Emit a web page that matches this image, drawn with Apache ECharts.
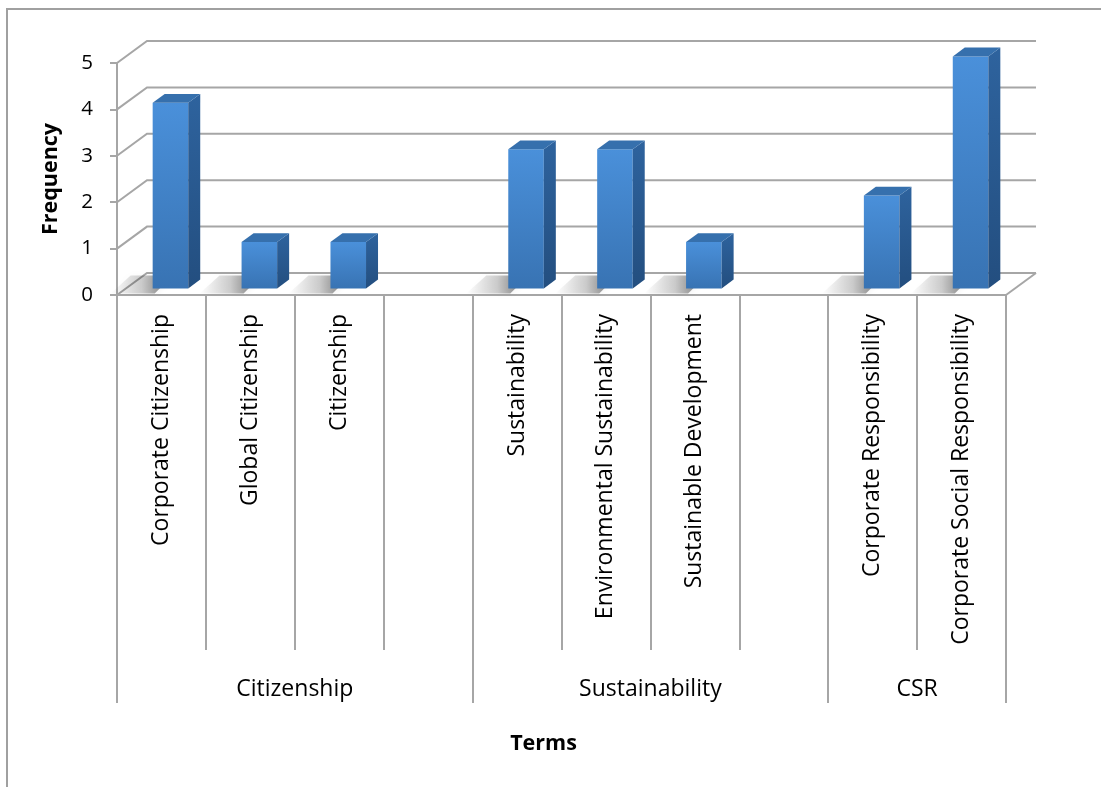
<!DOCTYPE html>
<html>
<head>
<meta charset="utf-8">
<script src="https://cdn.jsdelivr.net/npm/echarts@6/dist/echarts.min.js"></script>
<style>
  html, body { margin: 0; padding: 0; background: #fff; }
  #chart { width: 1101px; height: 787px; }
</style>
</head>
<body>
<div id="chart"></div>
<script>
// Term categories (empty slots separate the three groups)
const categories = [
  'Corporate Citizenship', 'Global Citizenship', 'Citizenship', '',
  'Sustainability', 'Environmental Sustainability', 'Sustainable Development', '',
  'Corporate Responsibility', 'Corporate Social Responsibility'
];
const frequencies = [4, 1, 1, null, 3, 3, 1, null, 2, 5];

// Group labels sit under the middle of their slots; edges mark group borders
const groupNames = ['Citizenship', 'Sustainability', 'CSR'];
const groupCenters = [1.5, 5.5, 8.5];
const groupEdges = [-0.5, 3.5, 7.5, 9.5];

const yTicks = [0, 1, 2, 3, 4, 5];

// Perspective offset from the front plane to the back wall
const DEPTH_X = 30, DEPTH_Y = -22;
const LINE = '#a6a6a6';
const FONT = '"Open Sans", sans-serif';

// Side wall, back wall gridlines and floor edge
function renderWall(params, api) {
  const v = api.value(1);
  const cs = params.coordSys;
  const y = api.coord([0, v])[1];
  const x0 = cs.x, x1 = cs.x + cs.width;
  const children = [{
    type: 'polyline',
    shape: { points: [[x0, y], [x0 + DEPTH_X, y + DEPTH_Y], [x1 + DEPTH_X, y + DEPTH_Y]] },
    style: { stroke: LINE, lineWidth: 2, fill: null }
  }];
  if (v === 0) {
    children.push({
      type: 'line',
      shape: { x1: x1, y1: y, x2: x1 + DEPTH_X, y2: y + DEPTH_Y },
      style: { stroke: LINE, lineWidth: 2 }
    });
  }
  return { type: 'group', children: children };
}

// Shaded 3D column: floor shadow, front face, side face, top face
function renderBar(params, api) {
  const i = api.value(0), v = api.value(1);
  if (v == null || isNaN(v)) return;
  const base = api.coord([i, 0]);
  const top = api.coord([i, v]);
  const slot = api.size([1, 0])[0];
  const w = slot * 0.4;
  const fx = base[0] - w / 2 + 0.3 * DEPTH_X;
  const fy0 = base[1] + 0.3 * DEPTH_Y;
  const fy1 = top[1] + 0.3 * DEPTH_Y;
  const dx = 0.4 * DEPTH_X, dy = 0.4 * DEPTH_Y;
  const sh = 42;
  return {
    type: 'group',
    children: [
      {
        type: 'polygon',
        shape: {
          points: [
            [fx - sh, fy0 + 5], [fx + 2, fy0 + 5],
            [fx + dx + 8, fy0 + dy - 4], [fx + dx + 8 - sh, fy0 + dy - 4]
          ]
        },
        style: {
          fill: new echarts.graphic.LinearGradient(0, 0, 1, 0, [
            { offset: 0, color: 'rgba(0,0,0,0)' },
            { offset: 0.5, color: 'rgba(0,0,0,0.18)' },
            { offset: 1, color: 'rgba(0,0,0,0.55)' }
          ]),
          shadowBlur: 6, shadowColor: 'rgba(0,0,0,0.18)'
        }
      },
      {
        type: 'rect',
        shape: { x: fx, y: fy1, width: w, height: fy0 - fy1 },
        style: {
          fill: new echarts.graphic.LinearGradient(0, 0, 0, 1, [
            { offset: 0, color: '#4a90da' },
            { offset: 1, color: '#3873b3' }
          ])
        }
      },
      {
        type: 'polygon',
        shape: { points: [[fx + w, fy1], [fx + w + dx, fy1 + dy], [fx + w + dx, fy0 + dy], [fx + w, fy0]] },
        style: {
          fill: new echarts.graphic.LinearGradient(0, 0, 0, 1, [
            { offset: 0, color: '#2e639e' },
            { offset: 1, color: '#234e7f' }
          ])
        }
      },
      {
        type: 'polygon',
        shape: { points: [[fx, fy1], [fx + dx, fy1 + dy], [fx + w + dx, fy1 + dy], [fx + w, fy1]] },
        style: { fill: '#3670ad' }
      }
    ]
  };
}

const chart = echarts.init(document.getElementById('chart'), null, { renderer: 'canvas' });

chart.setOption({
  backgroundColor: '#ffffff',
  animation: false,
  textStyle: { fontFamily: FONT },
  graphic: [{
    type: 'rect',
    shape: { x: 7, y: 9, width: 1200, height: 900 },
    style: { fill: null, stroke: '#a0a0a0', lineWidth: 2 },
    silent: true
  }],
  grid: { left: 117, top: 63, width: 889, height: 232 },
  xAxis: [
    {
      type: 'category',
      data: categories,
      name: 'Terms',
      nameLocation: 'middle',
      nameGap: 438,
      nameTextStyle: { fontFamily: FONT, fontSize: 21.5, fontWeight: 'bold', color: '#000', padding: [0, 36, 0, 0] },
      axisLine: { show: true, lineStyle: { color: LINE, width: 2 } },
      axisTick: { show: true, interval: 0, length: 355, lineStyle: { color: LINE, width: 2 } },
      axisLabel: {
        interval: 0, rotate: 90, margin: 19, fontSize: 23, color: '#000', fontFamily: FONT,
        padding: [8, 0, 0, 0]
      },
      splitLine: { show: false }
    },
    {
      type: 'value',
      position: 'bottom',
      min: -0.5,
      max: 9.5,
      axisLine: { show: false, onZero: false },
      splitLine: { show: false },
      axisTick: { show: true, customValues: groupEdges, length: 408, lineStyle: { color: LINE, width: 2 } },
      axisLabel: {
        customValues: groupCenters,
        margin: 383,
        fontSize: 23,
        color: '#000',
        fontFamily: FONT,
        formatter: function (v) {
          const k = groupCenters.indexOf(v);
          return k >= 0 ? groupNames[k] : '';
        }
      }
    }
  ],
  yAxis: {
    type: 'value',
    min: 0,
    max: 5,
    interval: 1,
    name: 'Frequency',
    nameLocation: 'middle',
    nameGap: 55,
    nameRotate: 90,
    nameTextStyle: { fontFamily: FONT, fontSize: 21.5, fontWeight: 'bold', color: '#000' },
    axisLine: { show: true, onZero: false, lineStyle: { color: LINE, width: 2 } },
    axisTick: { show: true, length: 7, lineStyle: { color: LINE, width: 2 } },
    axisLabel: { margin: 24, fontSize: 20.5, color: '#000', fontFamily: FONT },
    splitLine: { show: false }
  },
  series: [
    {
      type: 'custom',
      name: 'walls',
      renderItem: renderWall,
      data: yTicks.map(function (v) { return [0, v]; }),
      clip: false,
      silent: true,
      z: 1
    },
    {
      type: 'custom',
      name: 'Frequency',
      renderItem: renderBar,
      data: frequencies.map(function (v, i) { return [i, v]; }),
      clip: false,
      z: 2
    }
  ]
});
</script>
</body>
</html>
